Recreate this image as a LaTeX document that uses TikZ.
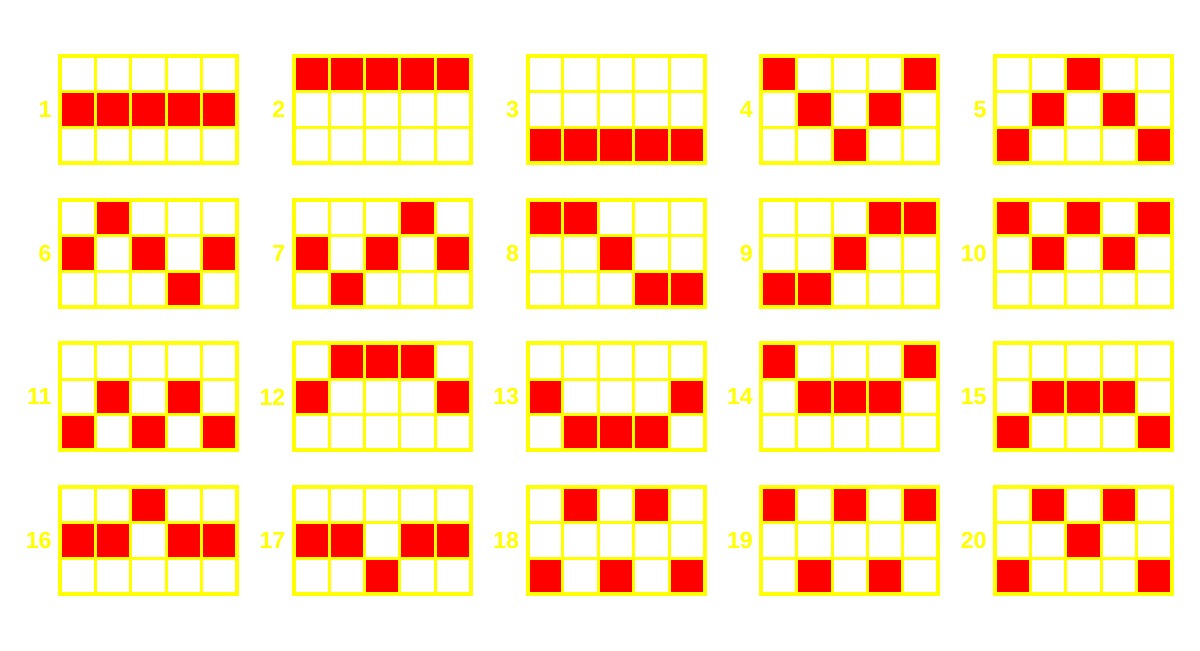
\documentclass[tikz,border=0pt]{standalone}
\usepackage{fontspec}
\setmainfont{Liberation Sans}
\usetikzlibrary{positioning}
\definecolor{payyellow}{HTML}{FFFF00}
\definecolor{payred}{HTML}{FF0000}

\begin{document}
\begin{tikzpicture}[
  x=0.5pt, y=-0.5pt,
  cell/.style={fill=payred},
  frame/.style={draw=payyellow, line width=2pt},
  gridline/.style={draw=payyellow, line width=1.5pt},
  lbl/.style={text=payyellow, font=\fontsize{11.6}{14}\selectfont\bfseries, anchor=east, inner sep=0pt}
]
  \useasboundingbox[fill=white] (0,0) rectangle (1200,650);

  % line number / row of the red cell in each of the 5 columns (0 = top)
  \foreach \n/\a/\b/\c/\d/\e in {
      1/1/1/1/1/1, 2/0/0/0/0/0, 3/2/2/2/2/2, 4/0/1/2/1/0, 5/2/1/0/1/2,
      6/1/0/1/2/1, 7/1/2/1/0/1, 8/0/0/1/2/2, 9/2/2/1/0/0, 10/0/1/0/1/0,
      11/2/1/2/1/2, 12/1/0/0/0/1, 13/1/2/2/2/1, 14/0/1/1/1/0, 15/2/1/1/1/2,
      16/1/1/0/1/1, 17/1/1/2/1/1, 18/2/0/2/0/2, 19/0/2/0/2/0, 20/2/0/1/0/2}{
    \pgfmathsetmacro\L{58+233.75*mod(\n-1,5)}
    \pgfmathsetmacro\T{54+143.7*div(\n-1,5)}
    \pgfmathsetmacro\X{\L+2}
    \pgfmathsetmacro\Y{\T+2}

    % red cells
    \foreach \k/\r in {0/\a, 1/\b, 2/\c, 3/\d, 4/\e}
      \fill[cell] (\X+35.4*\k, \Y+35.67*\r) rectangle ++(35.4, 35.67);

    % grid
    \foreach \k in {1,...,4}
      \draw[gridline] (\X+35.4*\k, \Y) -- ++(0, 107);
    \foreach \r in {1,2}
      \draw[gridline] (\X, \Y+35.67*\r) -- ++(177, 0);
    \draw[frame] (\X, \Y) rectangle ++(177, 107);

    \node[lbl] (line\n) at (\L-6, \T+55.5) {\n};
  }
\end{tikzpicture}
\end{document}
